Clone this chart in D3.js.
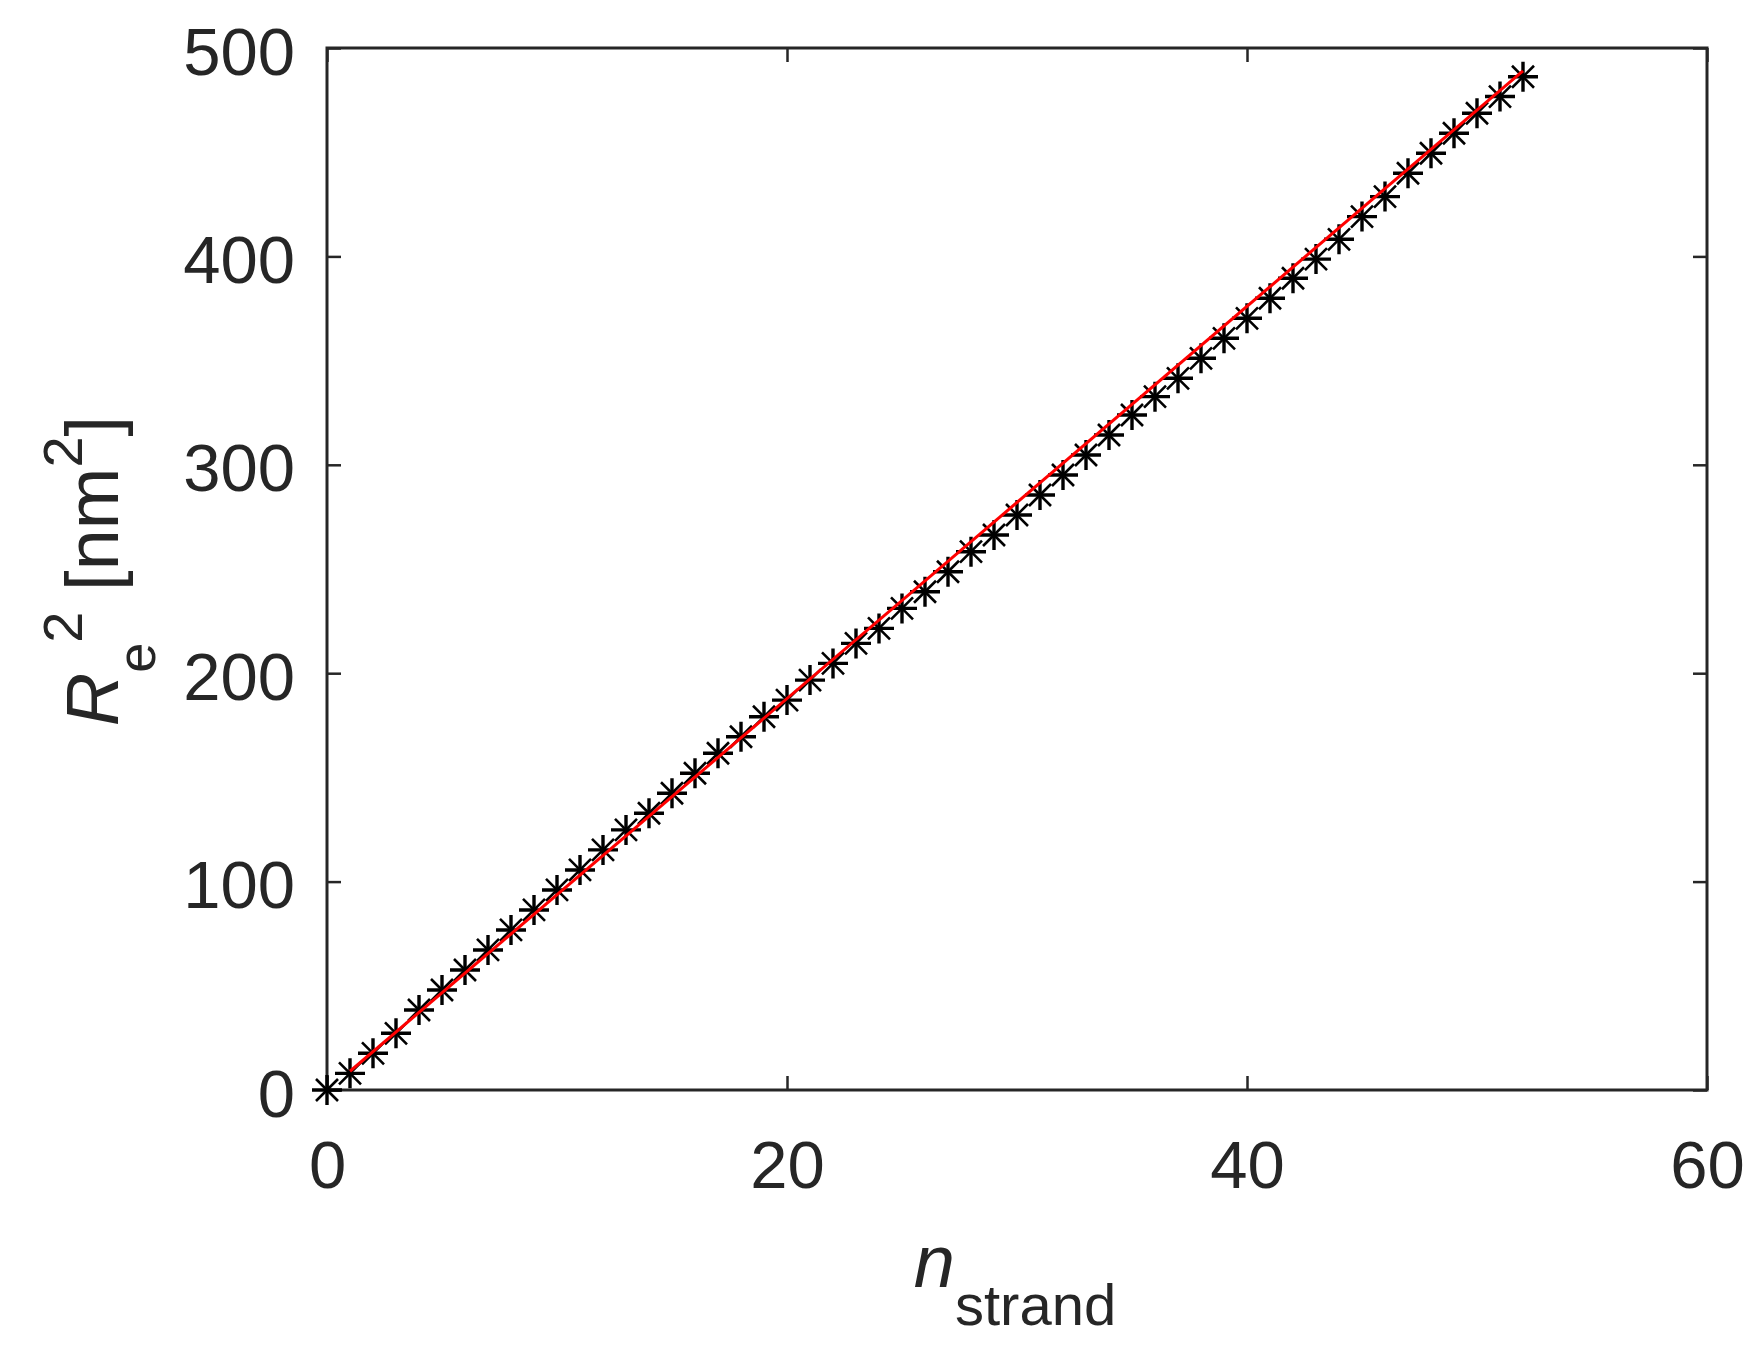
<!DOCTYPE html>
<html>
<head>
<meta charset="utf-8">
<script src="https://cdn.jsdelivr.net/npm/d3@7"></script>
<style>
  html, body { margin: 0; padding: 0; background: #fff; }
  svg { display: block; font-family: "Liberation Sans", Arial, sans-serif; }
</style>
</head>
<body>
<svg id="chart" width="1760" height="1357"></svg>
<script>
// ---- data ----
const nStrand = [0,1,2,3,4,5,6,7,8,9,10,11,12,13,14,15,16,17,18,19,20,21,22,23,24,25,26,27,28,29,30,31,32,33,34,35,36,37,38,39,40,41,42,43,44,45,46,47,48,49,50,51,52];
const re2 = [0,8.0,17.6,27.2,38.4,48.0,57.6,67.2,76.8,86.4,96.0,105.6,115.2,124.8,132.8,142.4,152.0,161.6,169.5,179.1,187.1,196.7,204.7,214.3,221.5,231.1,239.1,248.7,258.3,266.3,275.9,285.5,295.1,304.7,314.3,323.9,332.7,341.5,351.1,360.7,370.3,379.9,389.5,398.7,408.2,419.1,428.7,439.9,449.5,459.1,468.7,476.7,486.2];
const fitX = [1, 52];
const fitY = [9, 489];
const xTicks = [0, 20, 40, 60];
const yTicks = [0, 100, 200, 300, 400, 500];

// ---- layout ----
const L = 327, R = 1707, T = 48, B = 1090;
const ink = "#262626";
const svg = d3.select("#chart");

const x = d3.scaleLinear().domain([0, 60]).range([L, R]);
const y = d3.scaleLinear().domain([0, 500]).range([B, T]);

// axes (ticks inside, box)
const tickLen = 14;
const gx = svg.append("g").attr("transform", `translate(0,${B})`)
  .call(d3.axisBottom(x).tickValues(xTicks).tickSizeInner(-tickLen).tickSizeOuter(0).tickPadding(0).tickFormat(d3.format("d")));
const gxTop = svg.append("g").attr("transform", `translate(0,${T})`)
  .call(d3.axisTop(x).tickValues(xTicks).tickSizeInner(-tickLen).tickSizeOuter(0).tickFormat(""));
const gy = svg.append("g").attr("transform", `translate(${L},0)`)
  .call(d3.axisLeft(y).tickValues(yTicks).tickSizeInner(-tickLen).tickSizeOuter(0).tickPadding(0).tickFormat(d3.format("d")));
const gyRight = svg.append("g").attr("transform", `translate(${R},0)`)
  .call(d3.axisRight(y).tickValues(yTicks).tickSizeInner(-tickLen).tickSizeOuter(0).tickFormat(""));

[gx, gxTop, gy, gyRight].forEach(g => {
  g.select(".domain").remove();
  g.selectAll(".tick line").attr("stroke", ink).attr("stroke-width", 2.5);
});

gx.selectAll(".tick text")
  .attr("fill", ink).attr("font-size", 67).attr("font-family", "Liberation Sans, Arial, sans-serif")
  .attr("dy", null).attr("y", 98);
gy.selectAll(".tick text")
  .attr("fill", ink).attr("font-size", 67).attr("font-family", "Liberation Sans, Arial, sans-serif")
  .attr("dy", null).attr("x", -32).attr("y", 26);

// box
svg.append("rect").attr("x", L).attr("y", T).attr("width", R - L).attr("height", B - T)
  .attr("fill", "none").attr("stroke", ink).attr("stroke-width", 3);

// star markers
const r = 15, dr = 11;
const stars = svg.append("g");
nStrand.forEach((n, i) => {
  const cx = x(n), cy = y(re2[i]);
  const g = stars.append("g").attr("transform", `translate(${cx},${cy})`).attr("stroke", "#000");
  g.append("path").attr("d", `M${-r},0H${r}M0,${-r}V${r}`).attr("stroke-width", 3.4);
  g.append("path").attr("d", `M${-dr},${-dr}L${dr},${dr}M${-dr},${dr}L${dr},${-dr}`)
    .attr("stroke-width", 2.6);
});

// fit line
const line = d3.line().x(d => x(d[0])).y(d => y(d[1]));
svg.append("path").datum(fitX.map((v, i) => [v, fitY[i]]))
  .attr("d", line).attr("fill", "none").attr("stroke", "#ff0000").attr("stroke-width", 3);

// x label
const xl = svg.append("text").attr("x", (L + R) / 2 - 2).attr("y", 1287)
  .attr("text-anchor", "middle").attr("fill", ink).attr("font-size", 74);
xl.append("tspan").attr("font-style", "italic").text("n");
xl.append("tspan").attr("font-size", 58).attr("dy", 38).text("strand");

// y label
const yl = svg.append("text").attr("transform", `translate(118,571) rotate(-90)`)
  .attr("text-anchor", "middle").attr("fill", ink).attr("font-size", 74);
yl.append("tspan").attr("font-style", "italic").text("R");
yl.append("tspan").attr("font-size", 54).attr("dy", 37).text("e");
yl.append("tspan").attr("font-size", 56).attr("dy", -73).text("2");
yl.append("tspan").attr("dy", 36).text(" [nm");
yl.append("tspan").attr("font-size", 56).attr("dy", -36).text("2");
yl.append("tspan").attr("dy", 36).text("]");
</script>
</body>
</html>
